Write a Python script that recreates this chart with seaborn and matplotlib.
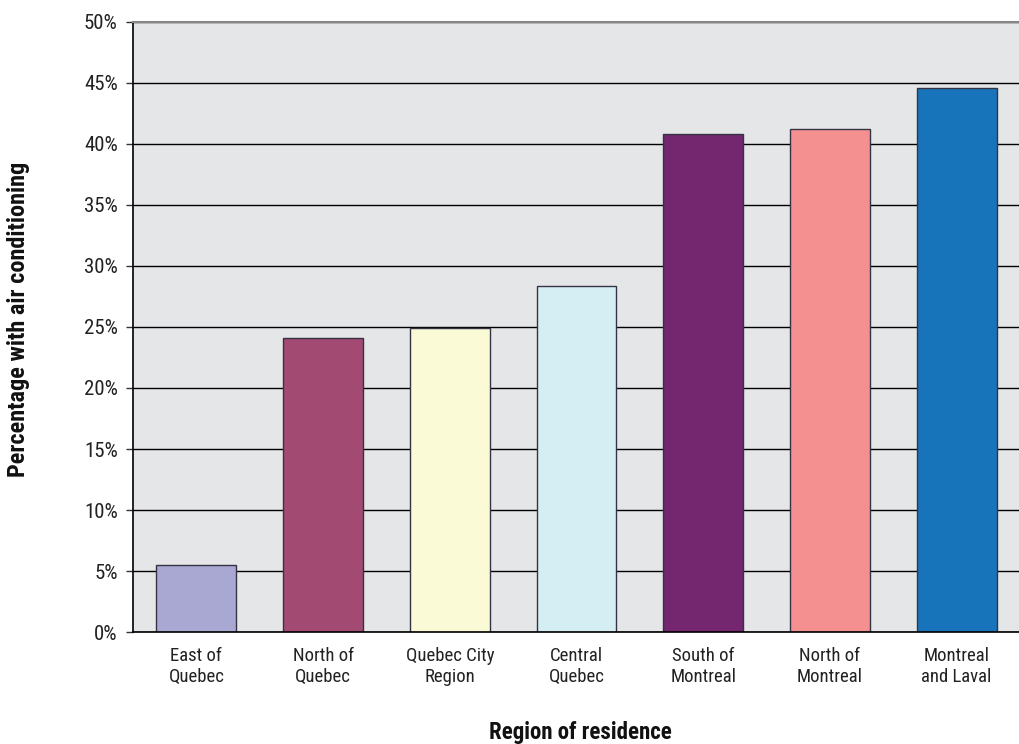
import matplotlib
matplotlib.use("Agg")
import matplotlib.pyplot as plt
import seaborn as sns
import numpy as np
import pandas as pd
from matplotlib.ticker import FixedLocator, PercentFormatter

categories = ["East of\nQuebec", "North of\nQuebec", "Quebec City\nRegion", "Central\nQuebec",
              "South of\nMontreal", "North of\nMontreal", "Montreal\nand Laval"]
values = [5.5, 24.1, 24.9, 28.4, 40.8, 41.2, 44.6]
colors = ["#A8A8D2", "#A34A73", "#FAFAD7", "#D5EEF3", "#74266F", "#F49090", "#1874BA"]
yticks = [0, 5, 10, 15, 20, 25, 30, 35, 40, 45, 50]

sns.set_style("white")
plt.rcParams['font.family'] = ['Liberation Sans Narrow', 'Roboto Condensed', 'Roboto', 'DejaVu Sans']

df = pd.DataFrame({"region": categories, "pct": values})

fig = plt.figure(figsize=(10.2, 7.44), dpi=100)
ax = fig.add_axes([0.1304, 0.1505, 0.8696, 0.82])
ax.set_facecolor("#E5E6E8")
ax.set_axisbelow(True)

sns.barplot(data=df, x="region", y="pct", hue="region", palette=colors, legend=False,
            width=0.63, edgecolor="#333344", linewidth=1.0, ax=ax, saturation=1)

ax.set_ylim(0, 50)
ax.set_xlim(-0.5, len(categories) - 0.5)
ax.set_yticks(yticks)
ax.yaxis.set_major_formatter(PercentFormatter(decimals=0))
ax.yaxis.grid(True, color="black", linewidth=1.0)
ax.xaxis.grid(False)

ax.tick_params(axis="x", which="major", length=0, pad=11, labelsize=13.5, colors="#222222")
ax.xaxis.set_minor_locator(FixedLocator(np.arange(-0.5, len(categories), 1.0)))
ax.tick_params(axis="x", which="minor", length=6, width=1, color="#555555", direction="out")
ax.tick_params(axis="y", length=5, width=1, color="#333333", labelsize=15, pad=6,
               direction="out", left=True, labelcolor="#222222")
for lbl in ax.get_xticklabels():
    lbl.set_linespacing(1.2)

for s in ["left", "bottom"]:
    ax.spines[s].set_color("black")
    ax.spines[s].set_linewidth(1.2)
ax.spines["top"].set_color("#888888")
ax.spines["top"].set_linewidth(1.5)
ax.spines["right"].set_visible(False)

ax.set_xlabel("")
ax.set_ylabel("")
fig.text(580 / 1020, 1 - 732 / 744, "Region of residence", fontsize=16.5, fontweight="bold",
         ha="center", va="center", color="#111111")
fig.text(19 / 1020, 1 - 319 / 744, "Percentage with air conditioning", fontsize=17.5,
         fontweight="bold", ha="center", va="center", rotation=90, color="#111111")

fig.savefig("out.png", dpi=100)
